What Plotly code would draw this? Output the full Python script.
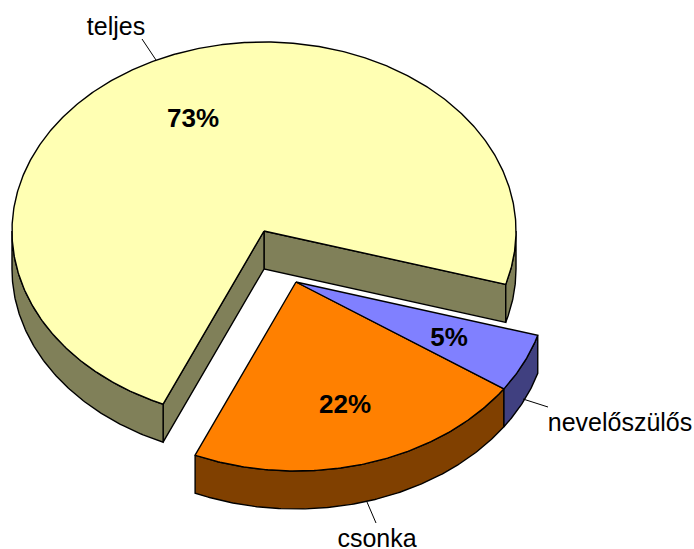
import numpy as np
import plotly.graph_objects as go

categories = ["teljes", "csonka", "nevelőszülős"]
values = [73, 22, 5]
percent_labels = ["73%", "22%", "5%"]
top_colors = ["#FFFFB3", "#FF8000", "#8080FF"]
wall_colors = ["#808059", "#804000", "#404080"]
label_xy = [(116, 29), (377, 541), (620, 425)]
percent_xy = [(193, 120), (345, 406), (449, 339)]
leaders = [((142, 39), (156, 60)), ((367, 502), (376, 523)), ((523, 399), (548, 407))]

CX, CY, A, B, DEPTH = 264, 231, 252, 189, 38
START = -16.4
OFFSETS = [(0, 0), (32, 51), (32, 51)]


def rim(t0, t1, dx=0, dy=0, drop=0):
    t = np.radians(np.linspace(t0, t1, max(2, int(abs(t1 - t0) * 2))))
    return CX + dx + A * np.cos(t), CY + dy + drop - B * np.sin(t)


def poly(fig, x, y, color):
    fig.add_trace(go.Scatter(x=list(x) + [x[0]], y=list(y) + [y[0]], mode="lines", fill="toself",
                             fillcolor=color, line=dict(color="black", width=1.4),
                             hoverinfo="skip", showlegend=False))


def wall(fig, t0, t1, dx, dy, color):
    x1, y1 = rim(t0, t1, dx, dy)
    x2, y2 = rim(t0, t1, dx, dy, DEPTH)
    poly(fig, np.r_[x1, x2[::-1]], np.r_[y1, y2[::-1]], color)


def cut(fig, t, color):
    x, y = rim(t, t + 0.001)
    poly(fig, [CX, x[0], x[0], CX], [CY, y[0], y[0] + DEPTH, CY + DEPTH], color)


fig = go.Figure()
edges = START + np.r_[0, np.cumsum(values)] * 360 / sum(values)

# largest slice: walls first, then its top
cut(fig, edges[0], wall_colors[0])
cut(fig, edges[1] - 360, wall_colors[0])
wall(fig, edges[0], 0, 0, 0, wall_colors[0])
wall(fig, 180, edges[1], 0, 0, wall_colors[0])
x, y = rim(edges[0], edges[1])
poly(fig, np.r_[CX, x], np.r_[CY, y], top_colors[0])

# exploded slices: visible outer walls and tops
for i in (1, 2):
    dx, dy = OFFSETS[i]
    wall(fig, edges[i], edges[i + 1], dx, dy, wall_colors[i])
for i in (1, 2):
    dx, dy = OFFSETS[i]
    x, y = rim(edges[i], edges[i + 1], dx, dy)
    poly(fig, np.r_[CX + dx, x], np.r_[CY + dy, y], top_colors[i])

for (p, q) in leaders:
    fig.add_trace(go.Scatter(x=[p[0], q[0]], y=[p[1], q[1]], mode="lines",
                             line=dict(color="black", width=1), hoverinfo="skip", showlegend=False))

fig.add_trace(go.Scatter(x=[p[0] for p in label_xy], y=[p[1] for p in label_xy], mode="text", text=categories,
                         textfont=dict(family="Liberation Sans", size=25, color="black"),
                         textposition="middle center", hoverinfo="skip", showlegend=False))
fig.add_trace(go.Scatter(x=[p[0] for p in percent_xy], y=[p[1] for p in percent_xy], mode="text", text=percent_labels,
                         textfont=dict(family="Liberation Sans", size=26, color="black", weight="bold"),
                         textposition="middle center", hoverinfo="skip", showlegend=False))

fig.update_layout(width=694, height=549, margin=dict(l=0, r=0, t=0, b=0), paper_bgcolor="white",
                  plot_bgcolor="white", showlegend=False,
                  xaxis=dict(range=[0, 694], visible=False, fixedrange=True),
                  yaxis=dict(range=[549, 0], visible=False, fixedrange=True))
fig.write_html("out.html", config={"displayModeBar": False},
               post_script="document.body.style.margin='0';")
